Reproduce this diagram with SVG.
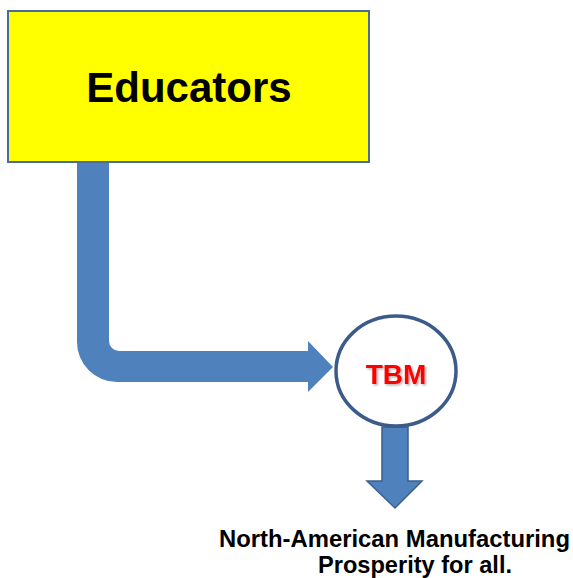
<svg xmlns="http://www.w3.org/2000/svg" width="573" height="578" viewBox="0 0 573 578">
<defs>
<style>
.flow{fill:#4f81bd}
.label{font-family:"Liberation Sans",Arial,sans-serif;font-weight:bold}
</style>
<filter id="sh" x="-20%" y="-20%" width="140%" height="140%">
<feDropShadow dx="1.5" dy="1.5" stdDeviation="1" flood-color="#000" flood-opacity="0.3"/>
</filter>
</defs>
<rect width="573" height="578" fill="#fff"/>
<g id="connectors">
<path class="flow" d="M77,161 L77,342 A40,40 0 0 0 117,382 L308,382 L308,392 L333,367 L308,341 L308,351 L119,351 A10,10 0 0 1 109,341 L109,161 Z"/>
<path class="flow" stroke="#3c5f8c" stroke-width="1.5" d="M382,427 L408,427 L408,481 L422,481 L395,508 L367,481 L382,481 Z"/>
</g>
<g id="educators">
<rect x="8" y="11" width="361" height="151" fill="#ffff00" stroke="#4a6c9a" stroke-width="2"/>
<text class="label" x="189" y="102" font-size="42" text-anchor="middle" fill="#000">Educators</text>
</g>
<g id="tbm">
<ellipse cx="396" cy="371" rx="60" ry="55" fill="#fff" stroke="#3b5b8a" stroke-width="3.5"/>
<text class="label" x="396" y="384" font-size="28" text-anchor="middle" fill="#ff0000" filter="url(#sh)">TBM</text>
</g>
<g id="outcome">
<text class="label" x="219" y="547" font-size="23.5" fill="#000" textLength="351" lengthAdjust="spacingAndGlyphs">North-American Manufacturing</text>
<text class="label" x="318" y="573" font-size="23.5" fill="#000" textLength="194" lengthAdjust="spacingAndGlyphs">Prosperity for all.</text>
</g>
</svg>
